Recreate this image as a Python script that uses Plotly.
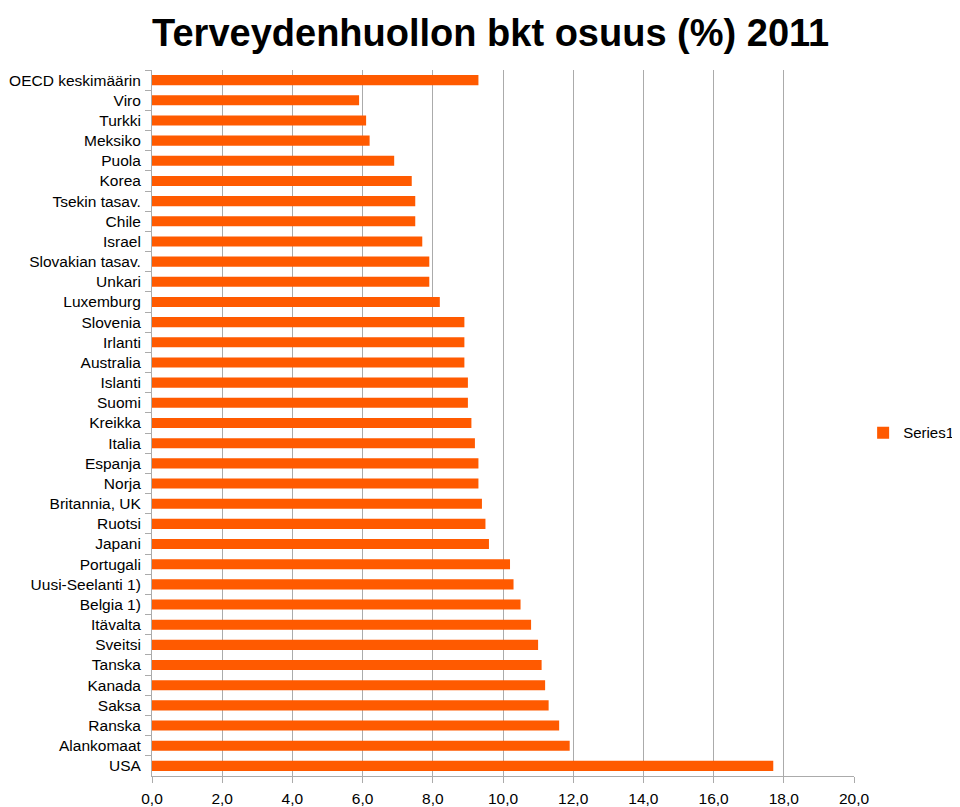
import plotly.graph_objects as go

categories = ["OECD keskimäärin", "Viro", "Turkki", "Meksiko", "Puola", "Korea",
              "Tsekin tasav.", "Chile", "Israel", "Slovakian tasav.", "Unkari",
              "Luxemburg", "Slovenia", "Irlanti", "Australia", "Islanti", "Suomi",
              "Kreikka", "Italia", "Espanja", "Norja", "Britannia, UK", "Ruotsi",
              "Japani", "Portugali", "Uusi-Seelanti 1)", "Belgia 1)", "Itävalta",
              "Sveitsi", "Tanska", "Kanada", "Saksa", "Ranska", "Alankomaat", "USA"]
values = [9.3, 5.9, 6.1, 6.2, 6.9, 7.4, 7.5, 7.5, 7.7, 7.9, 7.9, 8.2, 8.9, 8.9, 8.9,
          9.0, 9.0, 9.1, 9.2, 9.3, 9.3, 9.4, 9.5, 9.6, 10.2, 10.3, 10.5, 10.8, 11.0,
          11.1, 11.2, 11.3, 11.6, 11.9, 17.7]
x_ticks = [0, 2, 4, 6, 8, 10, 12, 14, 16, 18, 20]
x_tick_labels = ["0,0", "2,0", "4,0", "6,0", "8,0", "10,0", "12,0", "14,0", "16,0", "18,0", "20,0"]

FONT = "Liberation Sans, Arial, sans-serif"

fig = go.Figure()
fig.add_trace(go.Bar(
    x=values, y=categories, orientation="h", name="Series1",
    marker=dict(color="#FF5A00", line=dict(width=0)),
))

fig.update_layout(
    width=952, height=799,
    margin=dict(l=144, r=106, t=62, b=31, autoexpand=False),
    paper_bgcolor="white", plot_bgcolor="white",
    font=dict(family=FONT, size=15, color="black"),
    title=dict(text="<b>Terveydenhuollon bkt osuus (%) 2011</b>",
               x=0.507, xanchor="center", y=0.986, yanchor="top", pad=dict(t=0, b=0),
               font=dict(size=38, family=FONT)),
    bargap=0.5,
    showlegend=True,
    legend=dict(x=1.013, xanchor="left", y=0.486, yanchor="middle",
                font=dict(size=15), bgcolor="rgba(0,0,0,0)",
                itemwidth=30, traceorder="normal"),
    xaxis=dict(range=[0, 20], tickvals=x_ticks, ticktext=x_tick_labels,
               showgrid=True, gridcolor="#ABABAB", gridwidth=1,
               showline=True, linecolor="#ABABAB", linewidth=1,
               ticks="outside", ticklen=6, tickcolor="#ABABAB",
               zeroline=False, fixedrange=True, ticklabelstandoff=2,
               tickfont=dict(size=15.5)),
    yaxis=dict(type="category", autorange="reversed",
               showline=True, linecolor="#ABABAB", linewidth=1,
               ticks="outside", ticklen=6, tickcolor="#ABABAB",
               tickson="boundaries", showgrid=False, ticklabelstandoff=7,
               tickfont=dict(size=15.5)),
)

fig.write_html("out.html")
